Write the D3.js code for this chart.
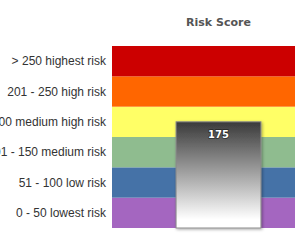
<!DOCTYPE html>
<html>
<head>
<meta charset="utf-8">
<script src="https://cdn.jsdelivr.net/npm/d3@7"></script>
<style>
  html, body { margin: 0; padding: 0; background: #fff; overflow: hidden; }
</style>
</head>
<body>
<script>
const categories = ['Risk Score'];
const scores = [175];
const bandLabels = ['0 - 50 lowest risk', '51 - 100 low risk', '101 - 150 medium risk',
    '151 - 200 medium high risk', '201 - 250 high risk', '> 250 highest risk'];
const bandFrom = [0, 50, 100, 150, 200, 250];
const bandTo = [50, 100, 150, 200, 250, 300];
const bandColors = ['#a466c0', '#4572a7', '#8fbc8f', '#ffff66', '#ff6600', '#cc0000'];

const width = 295, height = 250;
const margin = {top: 46, right: -30, bottom: 22, left: 112};
const innerW = width - margin.left - margin.right;
const innerH = height - margin.top - margin.bottom;

const svg = d3.select('body').append('svg')
    .attr('width', width)
    .attr('height', height);

const defs = svg.append('defs');
const grad = defs.append('linearGradient')
    .attr('id', 'barGrad')
    .attr('x1', 0).attr('y1', 0).attr('x2', 0).attr('y2', 1);
grad.append('stop').attr('offset', '0%').attr('stop-color', '#3a3a3a');
grad.append('stop').attr('offset', '92%').attr('stop-color', '#ffffff');

const shadow = defs.append('filter').attr('id', 'shadow')
    .attr('x', '-20%').attr('y', '-20%').attr('width', '140%').attr('height', '140%');
shadow.append('feDropShadow')
    .attr('dx', 1).attr('dy', 1).attr('stdDeviation', 1.5)
    .attr('flood-color', '#000').attr('flood-opacity', 0.35);

const chart = svg.append('g')
    .attr('transform', `translate(${margin.left}, ${margin.top})`);

const x = d3.scaleBand()
    .range([0, innerW])
    .domain(categories)
    .padding(0.43);

const y = d3.scaleLinear()
    .range([innerH, 0])
    .domain([0, 300]);

// risk bands
chart.selectAll('rect.band')
    .data(bandLabels)
    .enter()
    .append('rect')
    .attr('class', 'band')
    .attr('x', 0)
    .attr('y', (d, i) => y(bandTo[i]))
    .attr('width', innerW)
    .attr('height', (d, i) => y(bandFrom[i]) - y(bandTo[i]))
    .attr('fill', (d, i) => bandColors[i]);

// band labels
chart.selectAll('text.bandLabel')
    .data(bandLabels)
    .enter()
    .append('text')
    .attr('class', 'bandLabel')
    .attr('x', -6)
    .attr('y', (d, i) => y((bandFrom[i] + bandTo[i]) / 2))
    .attr('dy', '0.35em')
    .attr('text-anchor', 'end')
    .style('font-family', '"Liberation Sans", Arial, sans-serif')
    .style('font-size', '12px')
    .style('fill', '#333')
    .text(d => d);

// top axis title
chart.selectAll('text.cat')
    .data(categories)
    .enter()
    .append('text')
    .attr('class', 'cat')
    .attr('x', d => x(d) + x.bandwidth() / 2)
    .attr('y', -20)
    .attr('text-anchor', 'middle')
    .style('font-family', '"DejaVu Sans", Verdana, sans-serif')
    .style('font-weight', 'bold')
    .style('font-size', '11px')
    .style('fill', '#555')
    .text(d => d);

// score bar
chart.selectAll('rect.bar')
    .data(scores)
    .enter()
    .append('rect')
    .attr('class', 'bar')
    .attr('x', (d, i) => x(categories[i]))
    .attr('y', d => y(d))
    .attr('width', x.bandwidth())
    .attr('height', d => innerH - y(d))
    .attr('fill', 'url(#barGrad)')
    .attr('stroke', '#8a8a8a')
    .attr('stroke-width', 1)
    .attr('filter', 'url(#shadow)');

chart.selectAll('text.value')
    .data(scores)
    .enter()
    .append('text')
    .attr('class', 'value')
    .attr('x', (d, i) => x(categories[i]) + x.bandwidth() / 2)
    .attr('y', d => y(d) + 16)
    .attr('text-anchor', 'middle')
    .style('font-family', '"DejaVu Sans", Verdana, sans-serif')
    .style('font-weight', 'bold')
    .style('font-size', '10px')
    .style('fill', '#fff')
    .style('paint-order', 'stroke')
    .style('stroke', 'rgba(0,0,0,0.5)')
    .style('stroke-width', '1.5px')
    .text(d => d);
</script>
</body>
</html>
